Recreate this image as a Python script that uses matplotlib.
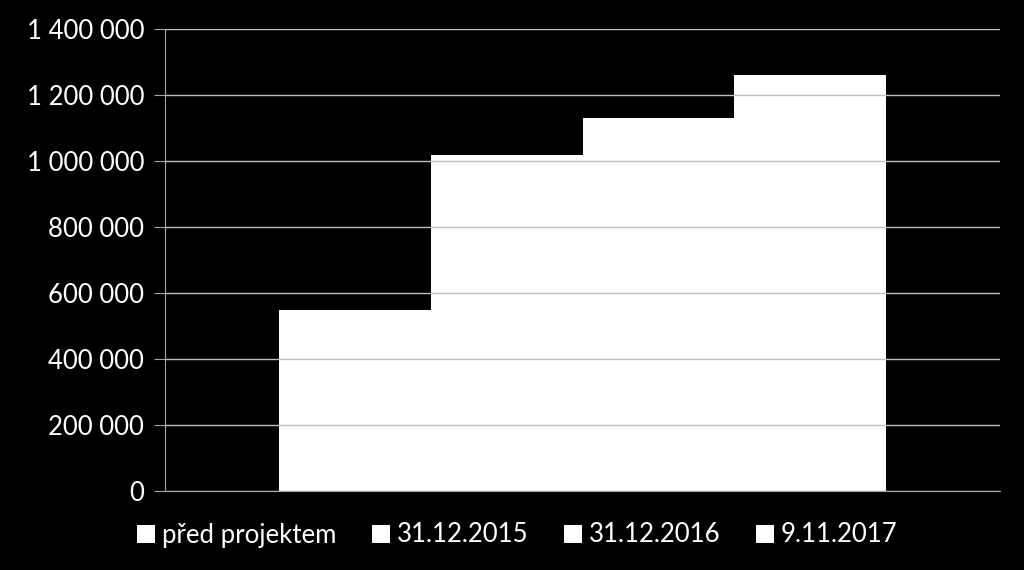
import matplotlib
matplotlib.use("Agg")
import matplotlib.pyplot as plt
from matplotlib.ticker import FuncFormatter

series = ["před projektem", "31.12.2015", "31.12.2016", "9.11.2017"]
values = [550000, 1018000, 1131000, 1262000]
yticks = [0, 200000, 400000, 600000, 800000, 1000000, 1200000, 1400000]

plt.rcParams['font.family'] = ['Lato', 'DejaVu Sans']

fig = plt.figure(figsize=(10.24, 5.7), dpi=100, facecolor="black")
ax = fig.add_axes([165/1024, 1-491/570, 835/1024, 462/570], facecolor="black")

w = 1.0
for i, (name, v) in enumerate(zip(series, values)):
	ax.bar((i-1.5)*w, v, width=w, color="white", label=name, zorder=2)

ax.set_xlim(-2.747, 2.747)
ax.set_ylim(0, 1400000)
ax.set_yticks(yticks)
ax.yaxis.set_major_formatter(FuncFormatter(lambda v, p: "{:,}".format(int(v)).replace(",", " ")))
ax.set_xticks([])
ax.grid(axis="y", color="#bfbfbf", linewidth=1, zorder=3)
ax.set_axisbelow(False)
for s in ["top", "right"]:
	ax.spines[s].set_visible(False)
ax.spines["left"].set_color("#a6a6a6")
ax.spines["bottom"].set_color("#a6a6a6")
ax.spines["bottom"].set_zorder(4)
ax.tick_params(axis="y", colors="white", labelsize=18.5, length=8, color="#a6a6a6", pad=7)
for lbl in ax.get_yticklabels():
	lbl.set_color("white")

leg = fig.legend(loc="center", bbox_to_anchor=(0.505, 1-535/570), ncol=4, frameon=False,
	fontsize=18.5, handlelength=0.7, handleheight=0.7, handletextpad=0.25, columnspacing=1.4,
	labelcolor="white")

fig.savefig("out.png", dpi=100, facecolor="black")
